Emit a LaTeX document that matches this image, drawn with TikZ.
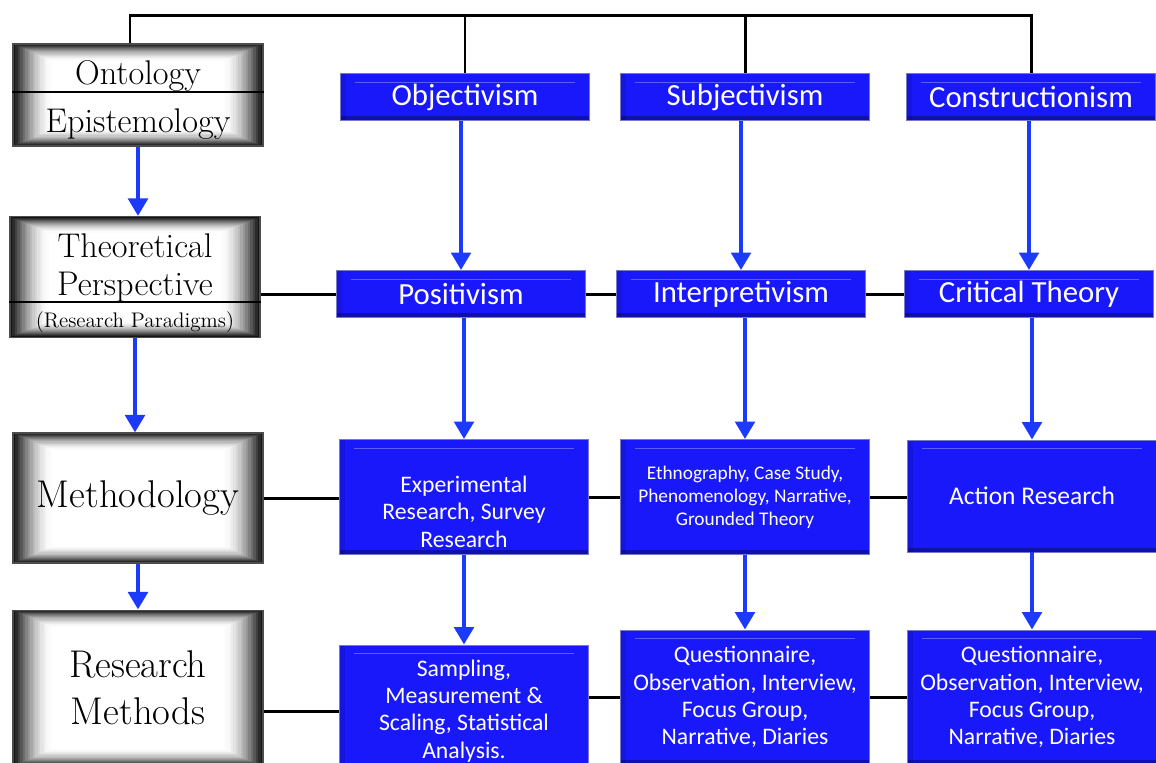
\documentclass[tikz,border=0pt]{standalone}
\usepackage{fontspec}
\usetikzlibrary{arrows.meta,calc}
\newfontfamily\boxfont{Carlito}
\definecolor{boxblue}{RGB}{24,24,250}
\definecolor{edgeblue}{RGB}{120,120,200}
\definecolor{arrowblue}{RGB}{28,58,250}

\tikzset{
  graybox/.style={draw=black!70, line width=0.6pt, minimum width=5cm, inner sep=0pt,
    path picture={
      \foreach \i in {0,...,16}{
        \pgfmathtruncatemacro\g{8+92*sin(90*\i/16)}
        \fill[white!\g!black] ($(path picture bounding box.south west)+(\i*1.4pt,\i*0.6pt)$)
          rectangle ($(path picture bounding box.north east)-(\i*1.4pt,\i*0.6pt)$);
      }
    }},
  graytext/.style={align=center, font=\fontsize{19.5}{22}\selectfont},
  bodybox/.style={draw=edgeblue, line width=0.5pt, fill=boxblue, text=white, align=center,
    inner sep=0pt, minimum width=4.98cm, font=\boxfont\fontsize{13.5}{15.5}\selectfont,
    path picture={
      \draw[white, opacity=0.3, line width=0.5pt] ($(path picture bounding box.north west)+(8pt,-5pt)$)
        -- ($(path picture bounding box.north east)+(-8pt,-5pt)$);
      \fill[black, opacity=0.3] (path picture bounding box.south west)
        rectangle ($(path picture bounding box.south east)+(0,2.5pt)$);
      \fill[black, opacity=0.12] (path picture bounding box.north west)
        rectangle ($(path picture bounding box.south west)+(3pt,0)$);
    }},
  headbox/.style={bodybox, minimum height=0.94cm, font=\boxfont\fontsize{17.5}{20}\selectfont},
  link/.style={line width=1.7pt},
  flow/.style={line width=2.8pt, arrowblue, -{Triangle[width=11pt,length=10pt]}},
}

\begin{document}
\begin{tikzpicture}[x=0.02cm,y=-0.02cm]
\clip (0,0) rectangle (1156,762);
\fill[white] (0,0) rectangle (1156,762);

% left column
\node[graybox, minimum height=2.04cm] (onto) at (138,95) {};
\node[graytext] (ontotext) at (138,76) {Ontology};
\node[graytext] (epitext) at (138,124) {Epistemology};
\node[graybox, minimum height=2.42cm] (theo) at (135,277) {};
\node[graytext] (theotext) at (135,268) {Theoretical\\Perspective};
\node[font=\fontsize{12}{14}\selectfont] (paradigm) at (135,322) {(Research Paradigms)};
\node[graybox, minimum height=2.6cm, font=\fontsize{22}{26}\selectfont] (meth) at (138,498) {Methodology};
\node[graybox, minimum height=3.12cm, align=center, font=\fontsize{22}{27}\selectfont] (rmeth) at (138,688) {Research\\Methods};

\coordinate (divA) at (0,92);
\coordinate (divB) at (0,302);
\draw[line width=1pt] (onto.west |- divA) -- (onto.east |- divA);
\draw[line width=1pt] (theo.west |- divB) -- (theo.east |- divB);

% blue columns
\node[headbox] (obj) at (465,97) {Objectivism};
\node[headbox] (subj) at (745,97) {Subjectivism};
\node[headbox] (cons) at (1031,97) {Constructionism};
\node[headbox] (posi) at (461,294) {Positivism};
\node[headbox] (interp) at (741,294) {Interpretivism};
\node[headbox] (crit) at (1029,294) {Critical Theory};
\node[bodybox, minimum height=2.3cm] (expe) at (464,497) {\rule{0pt}{26pt}Experimental\\Research, Survey\\Research};
\node[bodybox, minimum height=2.3cm, font=\boxfont\fontsize{11}{13}\selectfont] (ethno) at (745,497) {Ethnography, Case Study,\\Phenomenology, Narrative,\\Grounded Theory};
\node[bodybox, minimum height=2.24cm, font=\boxfont\fontsize{14.5}{17}\selectfont] (action) at (1032,496) {Action Research};
\node[bodybox, minimum height=2.64cm] (samp) at (464,711) {Sampling,\\Measurement \&\\Scaling, Statistical\\Analysis.};
\node[bodybox, minimum height=2.68cm] (quest) at (745,697) {Questionnaire,\\Observation, Interview,\\Focus Group,\\Narrative, Diaries};
\node[bodybox, minimum height=2.68cm] (questb) at (1032,697) {Questionnaire,\\Observation, Interview,\\Focus Group,\\Narrative, Diaries};

% black links
\coordinate (topl) at (130,15);
\draw[link] (onto.north -| topl) |- (cons.north |- topl) -- (cons.north);
\draw[link] (obj.north) -- (obj.north |- topl);
\draw[link] (subj.north) -- (subj.north |- topl);
\draw[link] (theo.east |- posi.west) -- (posi.west);
\draw[link] (posi.east) -- (interp.west);
\draw[link] (interp.east) -- (crit.west);
\draw[link] (meth.east) -- (expe.west |- meth.east);
\draw[link] (expe.east) -- (ethno.west);
\draw[link] (ethno.east) -- (action.west |- ethno.east);
\draw[link] (rmeth.east |- samp.west) -- (samp.west);
\draw[link] (quest.west -| samp.east) -- (quest.west);
\draw[link] (quest.east) -- (questb.west);

% blue arrows
\draw[flow] (onto.south) -- (onto.south |- theo.north);
\draw[flow] (theo.south) -- (theo.south |- meth.north);
\draw[flow] (meth.south) -- (meth.south |- rmeth.north);
\foreach \a/\b in {obj/posi, subj/interp, cons/crit, posi/expe, interp/ethno, crit/action, expe/samp, ethno/quest, action/questb}
  \draw[flow] (\b.north |- \a.south) -- (\b.north);
\end{tikzpicture}
\end{document}
